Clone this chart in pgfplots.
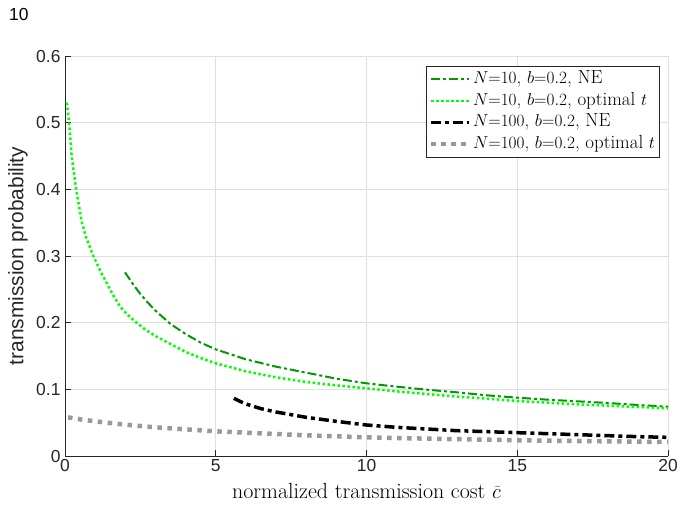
\documentclass[border=0pt]{standalone}
\usepackage{pgfplots}
\pgfplotsset{compat=1.18}
\usepackage{fontspec}
\setsansfont{Liberation Sans}
\definecolor{neten}{rgb}{0,0.6,0}
\definecolor{opten}{rgb}{0,1,0}
\definecolor{opthund}{rgb}{0.6,0.6,0.6}
\definecolor{axgray}{rgb}{0.15,0.15,0.15}
\definecolor{gridgray}{rgb}{0.88,0.88,0.88}
\begin{document}
\begin{tikzpicture}
\useasboundingbox (0,0) rectangle (680bp,508bp);
\node[anchor=west,inner sep=0pt,font=\sffamily\fontsize{17.5}{17.5}\selectfont] at (9bp,493bp) {10};
\begin{axis}[
  at={(65bp,52bp)}, anchor=south west,
  scale only axis, width=603bp, height=400bp,
  xmin=0, xmax=20, ymin=0, ymax=0.6,
  xtick={0,5,10,15,20},
  ytick={0,0.1,0.2,0.3,0.4,0.5,0.6},
  yticklabels={0,0.1,0.2,0.3,0.4,0.5,0.6},
  axis x line*=bottom, axis y line*=left,
  axis line style={axgray, line width=0.8bp},
  tick align=inside, major tick length=6bp,
  tick style={axgray, line width=0.8bp},
  grid=major, grid style={gridgray, line width=0.8bp},
  /pgf/number format/assume math mode=true,
  ticklabel style={font=\sffamily\fontsize{17.5}{17.5}\selectfont, text=axgray},
  yticklabel style={xshift=-1bp},
  xlabel={normalized transmission cost $\widetilde{c}$},
  xlabel style={at={(rel axis cs:0.5,0)}, anchor=center, yshift=-35bp, font=\fontsize{22}{22}\selectfont},
  ylabel={transmission probability},
  ylabel style={at={(rel axis cs:0,0.5)}, anchor=center, yshift=47bp, font=\sffamily\fontsize{21}{21}\selectfont, text=axgray},
  legend cell align=left,
  legend style={at={(rel axis cs:0.9867,0.975)}, anchor=north east,
    draw=axgray, line width=0.8bp, fill=white,
    font=\fontsize{19}{19}\selectfont,
    nodes={text height=13bp, text depth=4.5bp, inner sep=1.5bp},
    row sep=1.2bp, inner xsep=3bp, inner ysep=2.5bp},
  legend image code/.code={\draw[#1] (0bp,0bp) -- (38bp,0bp);},
]
\addplot[neten, line width=2bp, dash pattern=on 9bp off 3bp on 3bp off 3bp] coordinates {
(1.99,0.2755) (2.25,0.258) (2.5,0.243) (2.75,0.23) (3,0.218) (3.5,0.198) (4,0.183) (4.5,0.17) (5,0.16)
(6,0.145) (7,0.134) (8,0.125) (9,0.116) (10,0.109) (11,0.104) (12,0.0995) (13,0.0955)
(14,0.091) (15,0.0875) (16,0.0845) (17,0.082) (18,0.0795) (19,0.0765) (20,0.074)};
\addlegendentry{$N{=}10$, $b{=}0.2$, NE}
\addplot[opten, line width=2.5bp, dash pattern=on 2.5bp off 2.5bp] coordinates {
(0.06,0.53) (0.1,0.515) (0.136,0.5) (0.22,0.45) (0.37,0.4) (0.56,0.35) (0.7,0.328) (0.94,0.3)
(1.2,0.275) (1.39,0.259) (1.6,0.241) (1.83,0.224) (2.05,0.213) (2.33,0.2015) (2.65,0.19) (3,0.18) (3.5,0.168) (4,0.156) (4.5,0.147)
(5,0.139) (6,0.127) (7,0.118) (8,0.111) (9,0.106) (10,0.1015) (11,0.097) (12,0.093)
(13,0.089) (14,0.086) (15,0.0825) (16,0.08) (17,0.0775) (18,0.0755) (19,0.0735) (20,0.0715)};
\addlegendentry{$N{=}10$, $b{=}0.2$, optimal $t$}
\addplot[black, line width=3.5bp, dash pattern=on 10bp off 4bp on 4bp off 4bp] coordinates {
(5.6,0.0865) (5.8,0.082) (6,0.078) (6.5,0.071) (7,0.066) (7.5,0.062) (8,0.058) (9,0.052)
(10,0.0465) (11,0.043) (12,0.0405) (13,0.038) (14,0.0365) (15,0.035) (16,0.0335)
(17,0.032) (18,0.0305) (19,0.029) (20,0.028)};
\addlegendentry{$N{=}100$, $b{=}0.2$, NE}
\addplot[opthund, line width=4.5bp, dash pattern=on 4.5bp off 5.5bp] coordinates {
(0.1,0.058) (0.5,0.055) (1,0.052) (2,0.047) (3,0.043) (4,0.04) (5,0.037) (6,0.035)
(7,0.033) (8,0.031) (10,0.028) (12,0.026) (14,0.0245) (15,0.0235) (16,0.023) (18,0.022) (20,0.021)};
\addlegendentry{$N{=}100$, $b{=}0.2$, optimal $t$}
\end{axis}
\end{tikzpicture}
\end{document}
